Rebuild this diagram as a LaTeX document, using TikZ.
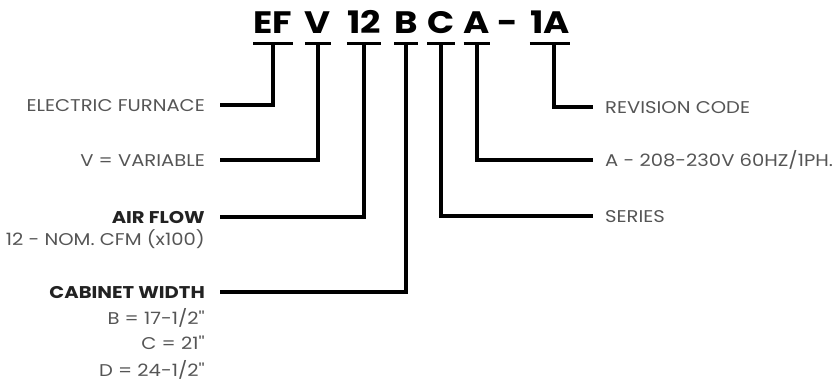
\documentclass[tikz,border=0pt]{standalone}
\usepackage{fontspec}
\setmainfont{Poppins}
\newfontfamily\codefont[FakeStretch=1.15]{Poppins}
\newfontfamily\labelfont[FakeStretch=1.15]{Poppins}
\usepackage{xcolor}
\usetikzlibrary{positioning}

\definecolor{labelgray}{HTML}{555555}
\definecolor{headgray}{HTML}{222222}

\begin{document}
\begin{tikzpicture}[x=1pt, y=-1pt,
  codechar/.style={inner sep=0pt, anchor=base, font=\codefont\fontsize{31}{31}\selectfont\bfseries},
  labeltxt/.style={inner sep=0pt, text height=12pt, text depth=0pt, text=labelgray, font=\labelfont\fontsize{17}{17}\selectfont},
  headtxt/.style={labeltxt, text=headgray, font=\labelfont\fontsize{17}{17}\selectfont\bfseries},
  leader/.style={line width=4pt}]
\useasboundingbox (0,0) rectangle (836,388);

% model number
\node[codechar] (ef) at (273, 33) {EF};
\node[codechar] (v) at (318, 33) {V};
\node[codechar] (twelve) at (364, 33) {12};
\node[codechar] (b) at (406, 33) {B};
\node[codechar] (c) at (441, 33) {C};
\node[codechar] (a) at (477, 33) {A};
\node[codechar] (dash) at (508, 33) {-};
\node[codechar] (rev) at (550, 33) {1A};

% bars under the letters
\foreach \n in {ef, v, twelve, b, c, a, rev}
  \draw[line width=3pt] (\n.west |- 0,43) -- (\n.east |- 0,43);

% left labels
\node[labeltxt, anchor=east] (furnace) at (205, 105) {ELECTRIC FURNACE};
\node[labeltxt, anchor=east] (variable) at (205, 160) {V = VARIABLE};
\node[headtxt, anchor=east] (airflow) at (205, 217) {AIR FLOW};
\node[labeltxt, below left=10pt and 0pt of airflow.south east] (cfm) {12 - NOM. CFM (x100)};
\node[headtxt, anchor=east] (cabinet) at (205, 292) {CABINET WIDTH};
\node[labeltxt, below left=14pt and 0pt of cabinet.south east] (wb) {B = 17-1/2''};
\node[labeltxt, below left=13pt and 0pt of wb.south east] (wc) {C = 21''};
\node[labeltxt, below left=14pt and 0pt of wc.south east] (wd) {D = 24-1/2''};

% right labels
\node[labeltxt, anchor=west] (revision) at (605, 107) {REVISION CODE};
\node[labeltxt, anchor=west] (voltage) at (605, 160) {A - 208-230V 60HZ/1PH.};
\node[labeltxt, anchor=west] (series) at (605, 216) {SERIES};

% leaders
\draw[leader] (ef.center |- 0,43) |- ([xshift=15pt]furnace.east);
\draw[leader] (v.center |- 0,43) |- ([xshift=15pt]variable.east);
\draw[leader] (twelve.center |- 0,43) |- ([xshift=15pt]airflow.east);
\draw[leader] (b.center |- 0,43) |- ([xshift=15pt]cabinet.east);
\draw[leader] (c.center |- 0,43) |- ([xshift=-12pt]series.west);
\draw[leader] (a.center |- 0,43) |- ([xshift=-12pt]voltage.west);
\draw[leader] ([xshift=4pt]rev.center |- 0,43) |- ([xshift=-12pt]revision.west);
\end{tikzpicture}
\end{document}
